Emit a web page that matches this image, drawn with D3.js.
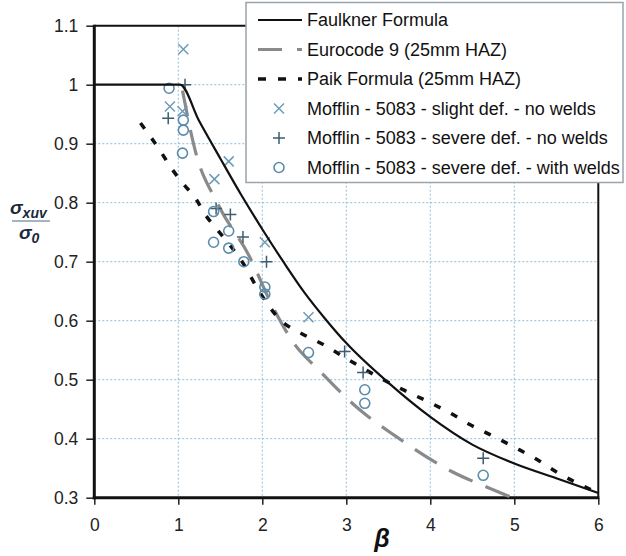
<!DOCTYPE html>
<html>
<head>
<meta charset="utf-8">
<script src="https://cdn.jsdelivr.net/npm/d3@7/dist/d3.min.js"></script>
<style>
  html, body { margin: 0; padding: 0; background: #fff; }
  svg { display: block; }
  text { font-family: "Liberation Sans", Arial, sans-serif; }
</style>
</head>
<body>
<svg id="chart" width="626" height="556"></svg>
<script>
// Buckling strength ratio vs plate slenderness beta

// Faulkner formula curve
const faulknerBeta  = [0, 1.02, 1.25, 1.5, 1.75, 2.0, 2.25, 2.5, 2.75, 3.0, 3.5, 4.0, 4.5, 5.0, 5.5, 6.0];
const faulknerRatio = [1.0, 1.0, 0.938, 0.875, 0.813, 0.755, 0.70, 0.648, 0.603, 0.562, 0.495, 0.437, 0.39, 0.358, 0.333, 0.308];

// Eurocode 9 (25mm HAZ)
const eurocodeBeta  = [1.05, 1.2, 1.47, 1.85, 2.12, 2.37, 2.69, 3.16, 3.6, 4.26, 4.69, 4.98];
const eurocodeRatio = [0.99, 0.889, 0.798, 0.708, 0.625, 0.563, 0.514, 0.449, 0.403, 0.344, 0.317, 0.30];

// Paik formula (25mm HAZ)
const paikBeta  = [0.55, 0.78, 0.92, 1.06, 1.22, 1.32, 1.46, 1.62, 1.76, 1.97, 2.21, 2.47, 2.72, 3.0, 3.48, 3.72, 3.97, 4.23, 4.47, 4.71, 5.01, 5.28, 5.51, 6.0];
const paikRatio = [0.935, 0.889, 0.858, 0.832, 0.804, 0.78, 0.755, 0.727, 0.70, 0.648, 0.602, 0.578, 0.56, 0.536, 0.497, 0.48, 0.463, 0.444, 0.424, 0.407, 0.385, 0.364, 0.343, 0.308];

// Mofflin tests - 5083 - slight deformation, no welds
const slightBeta  = [1.06, 0.90, 1.05, 1.60, 1.43, 2.03, 2.55];
const slightRatio = [1.06, 0.963, 0.955, 0.87, 0.84, 0.733, 0.606];

// Mofflin tests - 5083 - severe deformation, no welds
const severeBeta  = [1.08, 0.88, 1.45, 1.62, 1.77, 2.05, 2.98, 3.2, 4.63];
const severeRatio = [1.0, 0.943, 0.79, 0.78, 0.742, 0.70, 0.548, 0.512, 0.367];

// Mofflin tests - 5083 - severe deformation, with welds
const weldBeta  = [0.89, 1.06, 1.06, 1.05, 1.42, 1.6, 1.42, 1.6, 1.78, 2.03, 2.03, 2.55, 3.22, 3.22, 4.63];
const weldRatio = [0.994, 0.94, 0.923, 0.884, 0.785, 0.752, 0.733, 0.723, 0.70, 0.657, 0.645, 0.546, 0.483, 0.46, 0.338];

const xTicks = [0, 1, 2, 3, 4, 5, 6];
const yTicks = [0.3, 0.4, 0.5, 0.6, 0.7, 0.8, 0.9, 1.0, 1.1];
const yTickLabels = ["0.3", "0.4", "0.5", "0.6", "0.7", "0.8", "0.9", "1", "1.1"];

const legendLabels = [
  "Faulkner Formula",
  "Eurocode 9 (25mm HAZ)",
  "Paik Formula (25mm HAZ)",
  "Mofflin - 5083 - slight def. - no welds",
  "Mofflin - 5083 - severe def. - no welds",
  "Mofflin - 5083 - severe def. - with welds"
];

const svg = d3.select("#chart");
const plotLeft = 94.3, plotRight = 598.3, plotTop = 25.7, plotBottom = 497.7;

const x = d3.scaleLinear().domain([0, 6]).range([plotLeft, plotRight]);
const y = d3.scaleLinear().domain([0.3, 1.1]).range([plotBottom, plotTop]);

const gridColor = "#8fbcd6";
const crossColor = "#6d9bb8", plusColor = "#3c5d72", circleColor = "#5a8cab";

// grid
const grid = svg.append("g");
grid.selectAll("line.gx").data(xTicks.slice(1, -1)).join("line")
  .attr("x1", d => x(d)).attr("x2", d => x(d)).attr("y1", plotTop).attr("y2", plotBottom)
  .attr("stroke", gridColor).attr("stroke-width", 1).attr("stroke-dasharray", "2,2");
grid.selectAll("line.gy").data(yTicks.slice(1, -1)).join("line")
  .attr("y1", d => y(d)).attr("y2", d => y(d)).attr("x1", plotLeft).attr("x2", plotRight)
  .attr("stroke", gridColor).attr("stroke-width", 1).attr("stroke-dasharray", "2,2");

// axes
const yAxis = d3.axisLeft(y).tickValues(yTicks).tickSize(8).tickPadding(8)
  .tickFormat((d, i) => yTickLabels[i]);
const xAxis = d3.axisBottom(x).tickValues(xTicks).tickSize(7).tickPadding(14)
  .tickFormat(d3.format("d"));

const gy = svg.append("g").attr("transform", `translate(${plotLeft},0)`).call(yAxis);
const gx = svg.append("g").attr("transform", `translate(0,${plotBottom})`).call(xAxis);
[gx, gy].forEach(g => {
  g.select(".domain").remove();
  g.selectAll(".tick line").attr("stroke", "#222").attr("stroke-width", 1.5);
  g.selectAll(".tick text").attr("font-size", 17.5).attr("fill", "#222")
    .attr("font-family", "'Liberation Sans', Arial, sans-serif");
});

// frame
svg.append("line").attr("x1", plotLeft).attr("x2", plotRight).attr("y1", plotTop).attr("y2", plotTop)
  .attr("stroke", "#111").attr("stroke-width", 2);
svg.append("line").attr("x1", plotRight).attr("x2", plotRight).attr("y1", plotTop).attr("y2", plotBottom)
  .attr("stroke", "#111").attr("stroke-width", 2);
svg.append("line").attr("x1", plotLeft).attr("x2", plotLeft).attr("y1", plotTop - 1).attr("y2", plotBottom + 1.5)
  .attr("stroke", "#111").attr("stroke-width", 3);
svg.append("line").attr("x1", plotLeft - 1.5).attr("x2", plotRight + 1).attr("y1", plotBottom).attr("y2", plotBottom)
  .attr("stroke", "#111").attr("stroke-width", 3);

// curves
const line = d3.line().x(d => x(d[0])).y(d => y(d[1])).curve(d3.curveMonotoneX);
const zip = (a, b) => a.map((v, i) => [v, b[i]]);

svg.append("path").datum(zip(eurocodeBeta, eurocodeRatio)).attr("d", line)
  .attr("fill", "none").attr("stroke", "#8a8a8a").attr("stroke-width", 3.2)
  .attr("stroke-dasharray", "26,14");
svg.append("path").datum(zip(paikBeta, paikRatio)).attr("d", line)
  .attr("fill", "none").attr("stroke", "#111").attr("stroke-width", 3.5)
  .attr("stroke-dasharray", "7,12");

// markers
const mk = svg.append("g");
const crossPath = s => `M${-s},${-s}L${s},${s}M${-s},${s}L${s},${-s}`;
const plusPath = s => `M${-s},0L${s},0M0,${-s}L0,${s}`;

mk.selectAll("path.x").data(zip(slightBeta, slightRatio)).join("path")
  .attr("transform", d => `translate(${x(d[0])},${y(d[1])})`)
  .attr("d", crossPath(5)).attr("stroke", crossColor).attr("stroke-width", 1.5).attr("fill", "none");
mk.selectAll("path.p").data(zip(severeBeta, severeRatio)).join("path")
  .attr("transform", d => `translate(${x(d[0])},${y(d[1])})`)
  .attr("d", plusPath(6)).attr("stroke", plusColor).attr("stroke-width", 1.5).attr("fill", "none");
mk.selectAll("circle").data(zip(weldBeta, weldRatio)).join("circle")
  .attr("cx", d => x(d[0])).attr("cy", d => y(d[1])).attr("r", 5)
  .attr("stroke", circleColor).attr("stroke-width", 1.6).attr("fill", "none");

svg.append("path").datum(zip(faulknerBeta, faulknerRatio)).attr("d", line)
  .attr("fill", "none").attr("stroke", "#111").attr("stroke-width", 2.2);

// legend
const lg = svg.append("g");
lg.append("rect").attr("x", 246).attr("y", 2.5).attr("width", 377).attr("height", 180)
  .attr("fill", "#fff").attr("stroke", "#9aa4aa").attr("stroke-width", 1.5);
const rowY = i => 20 + i * 29.5;
legendLabels.forEach((t, i) => {
  lg.append("text").attr("x", 307).attr("y", rowY(i)).attr("dy", "0.36em")
    .attr("font-size", 18).attr("fill", "#111").text(t);
});
lg.append("line").attr("x1", 258).attr("x2", 302).attr("y1", rowY(0)).attr("y2", rowY(0))
  .attr("stroke", "#111").attr("stroke-width", 2.2);
lg.append("line").attr("x1", 258).attr("x2", 302).attr("y1", rowY(1)).attr("y2", rowY(1))
  .attr("stroke", "#8a8a8a").attr("stroke-width", 3.2).attr("stroke-dasharray", "24,15");
lg.append("line").attr("x1", 258).attr("x2", 302).attr("y1", rowY(2)).attr("y2", rowY(2))
  .attr("stroke", "#111").attr("stroke-width", 3.5).attr("stroke-dasharray", "8,12");
lg.append("path").attr("transform", `translate(279,${rowY(3)})`).attr("d", crossPath(5))
  .attr("stroke", crossColor).attr("stroke-width", 1.5);
lg.append("path").attr("transform", `translate(279,${rowY(4)})`).attr("d", plusPath(6))
  .attr("stroke", plusColor).attr("stroke-width", 1.5);
lg.append("circle").attr("cx", 279).attr("cy", rowY(5)).attr("r", 5)
  .attr("stroke", circleColor).attr("stroke-width", 1.6).attr("fill", "none");

// axis titles
const yt = svg.append("g").attr("font-family", "'Liberation Serif', 'Times New Roman', serif")
  .attr("font-style", "italic").attr("font-weight", "bold").attr("fill", "#1a2a3a");
const num = yt.append("text").attr("x", 10).attr("y", 214).attr("font-size", 19);
num.append("tspan").text("σ");
num.append("tspan").attr("font-size", 14).attr("dy", 4).text("xuv");
yt.append("line").attr("x1", 12).attr("x2", 50).attr("y1", 221).attr("y2", 221)
  .attr("stroke", "#4a6a85").attr("stroke-width", 1.2);
const den = yt.append("text").attr("x", 19).attr("y", 239).attr("font-size", 19);
den.append("tspan").text("σ");
den.append("tspan").attr("font-size", 14).attr("dy", 4).text("0");

svg.append("text").attr("x", 382).attr("y", 547).attr("text-anchor", "middle")
  .attr("font-family", "'Liberation Serif', 'Times New Roman', serif")
  .attr("font-style", "italic").attr("font-weight", "bold").attr("font-size", 25)
  .attr("fill", "#111").text("β");
</script>
</body>
</html>
